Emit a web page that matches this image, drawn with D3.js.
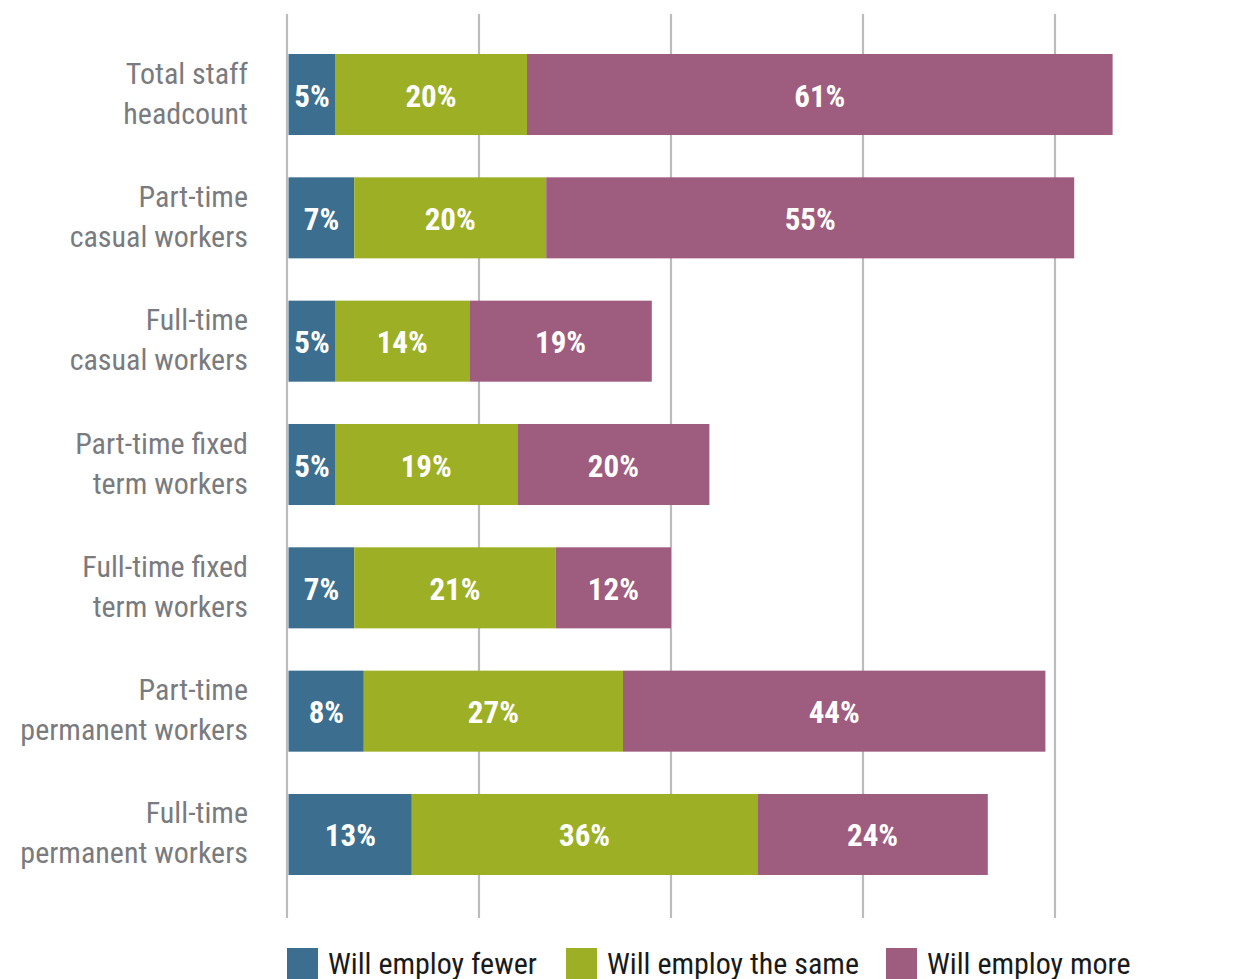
<!DOCTYPE html>
<html><head><meta charset="utf-8">
<script src="https://cdn.jsdelivr.net/npm/d3@7"></script>
<style>
body{margin:0;background:#fff;}
svg{display:block;}
text{font-family:"Liberation Sans Narrow","Roboto Condensed","Arial Narrow",sans-serif;}
</style></head>
<body>
<svg id="c" width="1237" height="979"></svg>
<script>
const categories = [
  ["Total staff","headcount"],
  ["Part-time","casual workers"],
  ["Full-time","casual workers"],
  ["Part-time fixed","term workers"],
  ["Full-time fixed","term workers"],
  ["Part-time","permanent workers"],
  ["Full-time","permanent workers"]
];
const fewer = [5,7,5,5,7,8,13];
const same  = [20,20,14,19,21,27,36];
const more  = [61,55,19,20,12,44,24];
const seriesNames = ["Will employ fewer","Will employ the same","Will employ more"];
const colors = ["#3c6e8f","#9db025","#9e5c7e"];
const gridTicks = [0,20,40,60,80];

const svg = d3.select("#c");
const x = d3.scaleLinear().domain([0,100]).range([287,1247]);
const y = d3.scaleBand().domain(d3.range(categories.length)).range([54,875]).paddingInner(0.343).paddingOuter(0);

// gridlines
svg.append("g").selectAll("line").data(gridTicks).join("line")
  .attr("x1",d=>x(d)).attr("x2",d=>x(d)).attr("y1",14).attr("y2",918)
  .attr("stroke","#bcbcbe").attr("stroke-width",2.2);

const rows = categories.map((c,i)=>({i, vals:[fewer[i],same[i],more[i]]}));
const stack = d3.stack().keys([0,1,2])(rows.map(r=>r.vals));

const g = svg.append("g");
stack.forEach((layer,k)=>{
  layer.forEach((seg,i)=>{
    g.append("rect").attr("x",x(seg[0])+(k===0?1.5:0)).attr("y",y(i))
      .attr("width",x(seg[1])-x(seg[0])-(k===0?1.5:0)).attr("height",y.bandwidth())
      .attr("fill",colors[k]);
    g.append("text").attr("x",(x(seg[0])+x(seg[1]))/2+(k===0?1:0)).attr("y",y(i)+y.bandwidth()/2+12)
      .attr("text-anchor","middle").attr("fill","#fff").attr("font-weight","bold")
      .attr("font-size",31).text(seg[1]-seg[0]+"%");
  });
});

// category labels
categories.forEach((c,i)=>{
  const cy = y(i)+y.bandwidth()/2;
  const t = svg.append("text").attr("text-anchor","end").attr("fill","#7a7b7e").attr("font-size",30);
  t.append("tspan").attr("x",248).attr("y",cy-11).text(c[0]);
  t.append("tspan").attr("x",248).attr("y",cy+29).text(c[1]);
});

// legend
const legX = [287,566,886];
seriesNames.forEach((n,k)=>{
  svg.append("rect").attr("x",legX[k]).attr("y",948).attr("width",31).attr("height",35).attr("fill",colors[k]);
  svg.append("text").attr("x",legX[k]+41).attr("y",974).attr("fill","#1a1a1a").attr("font-size",30).text(n);
});
</script>
</body></html>
